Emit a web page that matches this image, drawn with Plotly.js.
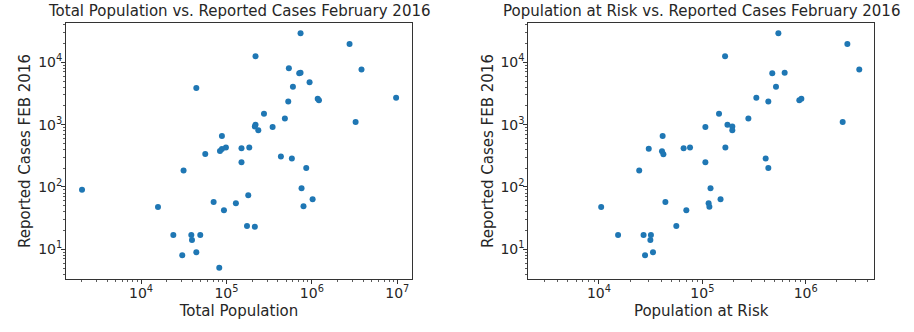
<!DOCTYPE html>
<html>
<head>
<meta charset="utf-8">
<script src="https://cdn.plot.ly/plotly-3.0.1.min.js"></script>
<style>html,body{margin:0;padding:0;background:#fff;}#chart{width:914px;height:332px;}</style>
</head>
<body>
<div id="chart"></div>
<script>
// Left panel: total population vs reported cases
const popTotal = [2040, 737000, 2760000, 219000, 538000, 3810000, 711000, 737000, 940000, 44400,
  600000, 529000, 1170000, 1210000, 9680000, 275000, 483000, 3250000, 219000, 215000,
  236000, 347000, 88500, 84000, 88500, 98600, 150000, 185000, 56500, 434000,
  583000, 150000, 859000, 31500, 757000, 180000, 1020000, 70800, 129000, 15800,
  798000, 93500, 174000, 215000, 23900, 38800, 49400, 39500, 44400, 30400, 82400];
const casesTotal = [90.6, 29200, 19700, 12500, 8010, 7630, 6670, 6820, 4780, 3870,
  4070, 2340, 2610, 2460, 2710, 1500, 1250, 1100, 1000, 930,
  811, 918, 658, 379, 408, 428, 417, 428, 338, 307,
  285, 249, 202, 183, 95.3, 73.5, 63.4, 57.4, 54.7, 47.8,
  49, 42.3, 23.7, 23.1, 17, 17, 17, 14.1, 8.96, 8.02, 5.08];

// Right panel: population at risk vs reported cases
const popRisk = [10500, 15300, 27000, 31800, 31400, 27900, 33300, 24500, 30300, 41300,
  40700, 42000, 43900, 56000, 65900, 76000, 70000, 107000, 107000, 115000,
  117000, 120000, 145000, 150000, 166000, 167000, 175000, 195000, 195000, 279000,
  333000, 410000, 435000, 435000, 475000, 516000, 544000, 626000, 868000, 908000,
  2280000, 2530000, 3300000];
const casesRisk = [47.8, 17, 17, 17, 14.1, 8.02, 8.96, 183, 412, 658,
  373, 334, 57.4, 23.7, 417, 428, 42.3, 918, 249, 54.7,
  48.3, 95.3, 1500, 63.4, 12500, 428, 1000, 930, 811, 1250,
  2710, 285, 2340, 202, 6670, 4070, 29200, 6820, 2460, 2610,
  1100, 19700, 7630];

// Tick labels
const xTickVals = [1e4, 1e5, 1e6, 1e7];
const xTickText = ["10<sup>4</sup>", "10<sup>5</sup>", "10<sup>6</sup>", "10<sup>7</sup>"];
const yTickVals = [1e1, 1e2, 1e3, 1e4];
const yTickText = ["10<sup>1</sup>", "10<sup>2</sup>", "10<sup>3</sup>", "10<sup>4</sup>"];

const titles = ["Total Population vs. Reported Cases February 2016",
                "Population at Risk vs. Reported Cases February 2016"];
const xTitles = ["Total Population", "Population at Risk"];
const yTitle = "Reported Cases FEB 2016";

const W = 914, H = 332;
const FONT = "DejaVu Sans, sans-serif";
const TXT = "#262626";
const marker = {color: "#1f77b4", size: 6, line: {width: 0}};

const traces = [
  {x: popTotal, y: casesTotal, type: "scatter", mode: "markers", marker: marker, xaxis: "x", yaxis: "y", hoverinfo: "x+y"},
  {x: popRisk, y: casesRisk, type: "scatter", mode: "markers", marker: marker, xaxis: "x2", yaxis: "y2", hoverinfo: "x+y"}
];

const common = {
  type: "log", showgrid: false, zeroline: false,
  showline: true, mirror: true, linecolor: "#333", linewidth: 1,
  ticks: "outside", ticklen: 4, tickwidth: 1, tickcolor: "#333",
  minor: {ticks: "outside", ticklen: 2, tickwidth: 0.8, tickcolor: "#333", dtick: "D1", showgrid: false},
  tickfont: {family: FONT, size: 14, color: TXT},
  fixedrange: true
};

function xax(domainPx, range, title, anchor) {
  return Object.assign({}, common, {
    domain: [domainPx[0] / W, domainPx[1] / W], range: range, anchor: anchor,
    tickmode: "array", tickvals: xTickVals, ticktext: xTickText,
    ticklabelstandoff: -3,
    title: {text: title, font: {family: FONT, size: 15, color: TXT}, standoff: 5}
  });
}
function yax(anchor) {
  return Object.assign({}, common, {
    domain: [1 - 279.3 / H, 1 - 22.7 / H], range: [0.519, 4.635], anchor: anchor,
    tickmode: "array", tickvals: yTickVals, ticktext: yTickText,
    ticklabelstandoff: -4,
    title: {text: yTitle, font: {family: FONT, size: 15, color: TXT}, standoff: 3}
  });
}

const layout = {
  width: W, height: H,
  margin: {l: 0, r: 0, t: 0, b: 0},
  paper_bgcolor: "#fff", plot_bgcolor: "#fff",
  showlegend: false,
  font: {family: FONT, color: TXT},
  xaxis: xax([66, 412], [3.122, 7.172], xTitles[0], "y"),
  yaxis: yax("x"),
  xaxis2: xax([528.3, 874], [3.316, 6.661], xTitles[1], "y2"),
  yaxis2: yax("x2"),
  annotations: [
    {text: titles[0], xref: "paper", yref: "paper", x: 239 / W, y: 1 - 11 / H, xanchor: "center", yanchor: "middle",
     showarrow: false, font: {family: FONT, size: 15, color: TXT}},
    {text: titles[1], xref: "paper", yref: "paper", x: 701 / W, y: 1 - 11 / H, xanchor: "center", yanchor: "middle",
     showarrow: false, font: {family: FONT, size: 15, color: TXT}}
  ]
};

Plotly.newPlot("chart", traces, layout, {displayModeBar: false, staticPlot: true});
</script>
</body>
</html>
